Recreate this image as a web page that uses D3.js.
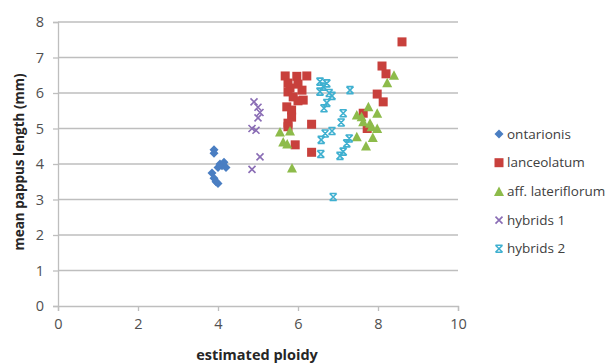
<!DOCTYPE html>
<html><head><meta charset="utf-8">
<script src="https://cdn.jsdelivr.net/npm/d3@7"></script>
<style>body{margin:0;background:#fff}svg{display:block}</style>
</head><body><svg id="c" width="614" height="363"></svg>
<script>
const seriesNames = ["ontarionis","lanceolatum","aff. lateriflorum","hybrids 1","hybrids 2"];
const seriesColors = ["#4A7EC2","#C8403C","#8DBB4A","#8A6DB5","#3FB0D0"];
const ontarionis = [[3.9,4.4],[3.9,4.3],[4.05,4.0],[4.1,3.95],[4.15,4.05],[4.0,3.9],[4.2,3.9],[3.85,3.75],[3.9,3.6],[3.95,3.5],[4.0,3.45]];
const lanceolatum = [[5.68,6.48],[5.97,6.47],[6.22,6.48],[5.75,6.28],[5.8,6.14],[6.0,6.25],[6.1,6.08],[5.75,6.03],[5.88,5.89],[6.13,5.8],[6.0,5.78],[5.72,5.61],[5.84,5.52],[5.84,5.32],[5.75,5.15],[5.75,5.05],[5.93,4.54],[6.34,5.12],[6.34,4.33],[7.63,5.43],[7.73,5.0],[7.98,5.97],[8.13,5.75],[8.1,6.76],[8.2,6.54],[8.6,7.44]];
const lateriflorum = [[5.55,4.9],[5.8,4.93],[5.63,4.62],[5.73,4.56],[5.85,3.89],[8.4,6.5],[8.23,6.29],[7.76,5.61],[7.47,5.38],[7.59,5.33],[7.98,5.43],[7.63,5.19],[7.8,5.15],[7.84,5.05],[7.98,5.0],[7.47,4.77],[7.87,4.75],[7.7,4.51]];
const hybrids1 = [[4.9,5.75],[5.0,5.6],[5.05,5.45],[5.0,5.3],[4.85,5.0],[4.95,4.95],[5.05,4.2],[4.85,3.85]];
const hybrids2 = [[6.55,6.32],[6.72,6.27],[6.63,6.18],[6.55,6.04],[6.78,6.0],[6.85,5.92],[7.3,6.08],[6.72,5.72],[6.65,5.57],[7.13,5.43],[7.08,5.17],[6.68,4.86],[6.85,4.93],[6.58,4.68],[7.28,4.72],[7.22,4.58],[7.13,4.35],[7.05,4.23],[6.57,4.28],[6.88,3.07]];
const xTicks = [0,2,4,6,8,10];
const yTicks = [0,1,2,3,4,5,6,7,8];
const xTitle = "estimated ploidy";
const yTitle = "mean pappus length (mm)";

const allSeries = [ontarionis, lanceolatum, lateriflorum, hybrids1, hybrids2];
const shapes = ["diamond","square","triangle","x","star"];

const svg = d3.select("#c");
const font = "'Open Sans', Calibri, sans-serif";
const x = d3.scaleLinear().domain([0,10]).range([58,458]);
const y = d3.scaleLinear().domain([0,8]).range([306,22]);
const grid = "#BEBEBE";

svg.append("g").selectAll("line").data(yTicks.filter(d=>d>0)).join("line")
  .attr("x1",x(0)).attr("x2",x(10)).attr("y1",d=>y(d)).attr("y2",d=>y(d))
  .attr("stroke",grid).attr("stroke-width",1.3);

const xa = svg.append("g").attr("transform",`translate(0,${y(0)})`)
  .call(d3.axisBottom(x).tickValues(xTicks).tickSize(5).tickPadding(8).tickFormat(d3.format("d")));
const ya = svg.append("g").attr("transform",`translate(${x(0)},0)`)
  .call(d3.axisLeft(y).tickValues(yTicks).tickSize(5).tickPadding(9).tickFormat(d3.format("d")));
[xa,ya].forEach(a=>{
  a.select(".domain").attr("stroke",grid).attr("stroke-width",1.3);
  a.selectAll(".tick line").attr("stroke",grid).attr("stroke-width",1.3);
  a.selectAll("text").attr("font-family",font).attr("font-size",14.5).attr("fill","#505050");
});

function drawMarker(g, shape, color, cx, cy){
  if(shape==="diamond"){
    g.append("path").attr("d",`M${cx},${cy-4.5}L${cx+4.5},${cy}L${cx},${cy+4.5}L${cx-4.5},${cy}Z`).attr("fill",color);
  } else if(shape==="square"){
    g.append("rect").attr("x",cx-4.5).attr("y",cy-4.5).attr("width",9).attr("height",9).attr("fill",color);
  } else if(shape==="triangle"){
    g.append("path").attr("d",`M${cx},${cy-5}L${cx+5},${cy+4.5}L${cx-5},${cy+4.5}Z`).attr("fill",color);
  } else if(shape==="x"){
    g.append("path").attr("d",`M${cx-3.5},${cy-3.5}L${cx+3.5},${cy+3.5}M${cx+3.5},${cy-3.5}L${cx-3.5},${cy+3.5}`)
      .attr("stroke",color).attr("stroke-width",1.6).attr("fill","none");
  } else {
    g.append("path").attr("d",`M${cx-3.5},${cy-3.5}L${cx+3.5},${cy+3.5}M${cx+3.5},${cy-3.5}L${cx-3.5},${cy+3.5}M${cx-3.5},${cy-3.5}L${cx+3.5},${cy-3.5}M${cx-3.5},${cy+3.5}L${cx+3.5},${cy+3.5}`)
      .attr("stroke",color).attr("stroke-width",1.6).attr("fill","none");
  }
}

allSeries.forEach((data,i)=>{
  const g = svg.append("g");
  data.forEach(d=>drawMarker(g, shapes[i], seriesColors[i], x(d[0]), y(d[1])));
});

const lg = svg.append("g");
seriesNames.forEach((name,i)=>{
  const ly = 134 + i*28.7;
  drawMarker(lg, shapes[i], seriesColors[i], 499, ly);
  lg.append("text").attr("x",507).attr("y",ly+4.5).text(name)
    .attr("font-family",font).attr("font-size",13.5).attr("fill","#404040");
});

svg.append("text").attr("x",257).attr("y",360).attr("text-anchor","middle")
  .attr("font-family",font).attr("font-size",14.5).attr("font-weight","bold").attr("fill","#262626").text(xTitle);
svg.append("text").attr("transform","translate(24,162) rotate(-90)").attr("text-anchor","middle")
  .attr("font-family",font).attr("font-size",13.5).attr("font-weight","bold").attr("fill","#262626").text(yTitle);
</script></body></html>
